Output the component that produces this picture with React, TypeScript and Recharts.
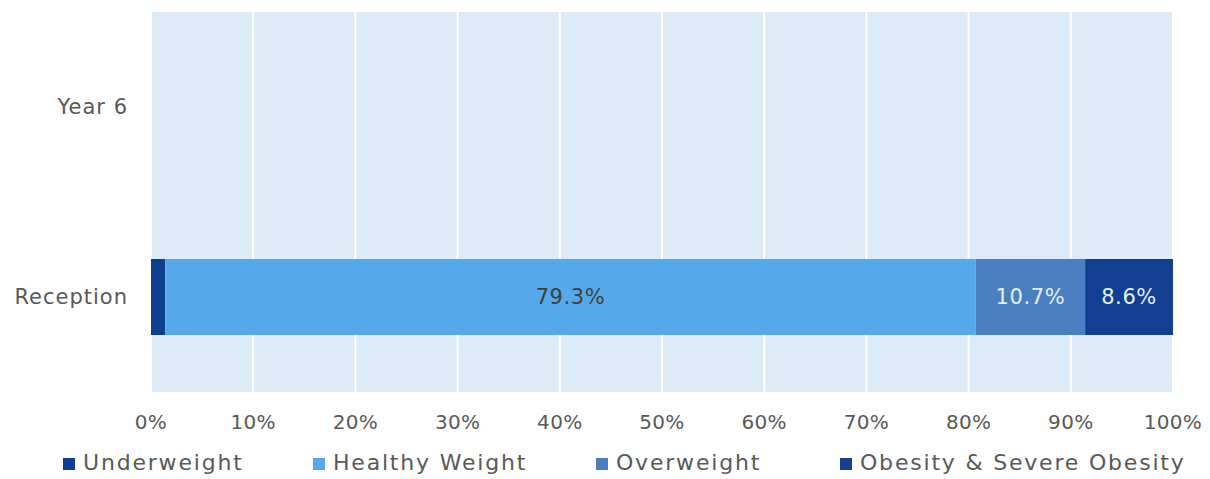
import { BarChart, Bar, XAxis, YAxis, CartesianGrid, LabelList } from "recharts";

const categories = ["Year 6", "Reception"];
const underweight = [0, 1.4];
const healthyWeight = [0, 79.3];
const overweight = [0, 10.7];
const obesity = [0, 8.6];
const xTicks = [0, 10, 20, 30, 40, 50, 60, 70, 80, 90, 100];

const series = [
  { key: "underweight", name: "Underweight", color: "#0F3F91", labelColor: "#FFFFFF", showZero: true },
  { key: "healthy", name: "Healthy Weight", color: "#55A9EA", labelColor: "#404040", showZero: false },
  { key: "overweight", name: "Overweight", color: "#4A80C2", labelColor: "#E6EEF8", showZero: false },
  { key: "obesity", name: "Obesity & Severe Obesity", color: "#123F91", labelColor: "#E6EEF8", showZero: false },
];

// legend item left edges
const legendLeft = [63, 313, 596, 840];

const data = categories.map((name, i) => ({
  name,
  underweight: underweight[i],
  healthy: healthyWeight[i],
  overweight: overweight[i],
  obesity: obesity[i],
}));

const font = "'DejaVu Sans', sans-serif";

// labels: hide the sliver on tiny bars, only one faint 0.0% on empty row
const makeLabel = (fill: string, showZero: boolean) => (props: any) => {
  const { x, y, width, height, value } = props;
  const v = Number(value);
  if (v === 0 && !showZero) return null;
  if (v > 0 && width < 30) return null;
  return (
    <text
      x={x + width / 2}
      y={y + height / 2}
      fill={fill}
      fillOpacity={v === 0 ? 0.6 : 1}
      textAnchor="middle"
      dominantBaseline="central"
      fontSize={21}
      fontFamily={font}
      letterSpacing={0.6}
    >
      {v.toFixed(1)}%
    </text>
  );
};

export default function App() {
  return (
    <div style={{ position: "absolute", left: 0, top: 0, width: 1210, height: 479, background: "#fff", overflow: "hidden" }}>
      <BarChart
        width={1210}
        height={479}
        data={data}
        layout="vertical"
        margin={{ top: 12, right: 37, left: 0, bottom: 47 }}
      >
        <CartesianGrid horizontal={false} stroke="#FFFFFF" strokeWidth={2} fill="#DDEBF9" fillOpacity={1} />
        <XAxis
          type="number"
          domain={[0, 100]}
          ticks={xTicks}
          tickFormatter={(v) => `${v}%`}
          axisLine={false}
          tickLine={false}
          height={40}
          tickMargin={17}
          tick={{ fill: "#595959", fontSize: 20, fontFamily: font, letterSpacing: 0.3 }}
        />
        <YAxis
          type="category"
          dataKey="name"
          width={151}
          axisLine={false}
          tickLine={false}
          tickMargin={17}
          tick={{ fill: "#595959", fontSize: 21, fontFamily: font, letterSpacing: 1 }}
        />
        {series.map((s) => (
          <Bar key={s.key} dataKey={s.key} name={s.name} stackId="a" fill={s.color} barSize={76} isAnimationActive={false}>
            <LabelList dataKey={s.key} content={makeLabel(s.labelColor, s.showZero)} />
          </Bar>
        ))}
      </BarChart>
      {series.map((s, i) => (
        <div
          key={s.key}
          style={{
            position: "absolute",
            top: 449,
            left: legendLeft[i],
            display: "flex",
            alignItems: "center",
            fontFamily: font,
            fontSize: 22,
            letterSpacing: 1.8,
            color: "#595959",
            whiteSpace: "nowrap",
            lineHeight: "28px",
          }}
        >
          <span style={{ display: "inline-block", width: 12, height: 12, background: s.color, marginRight: 8, marginTop: 2 }} />
          {s.name}
        </div>
      ))}
    </div>
  );
}
